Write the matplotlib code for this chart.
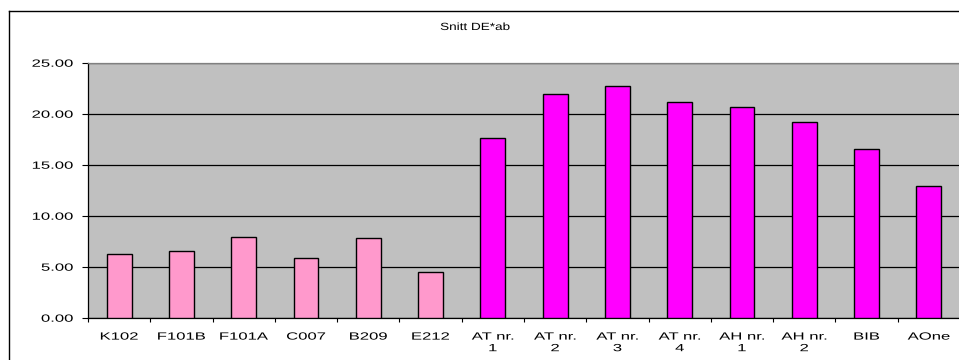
import matplotlib
matplotlib.use("Agg")
import matplotlib.pyplot as plt
from matplotlib.lines import Line2D
from matplotlib.patheffects import AbstractPathEffect
from matplotlib.transforms import Affine2D

plt.rcParams['font.family'] = ['Liberation Sans', 'DejaVu Sans']

title = "Snitt DE*ab"
categories = ["K102", "F101B", "F101A", "C007", "B209", "E212",
              "AT nr.\n1", "AT nr.\n2", "AT nr.\n3", "AT nr.\n4",
              "AH nr.\n1", "AH nr.\n2", "BIB", "AOne"]
values = [6.23, 6.56, 7.90, 5.90, 7.80, 4.49,
          17.65, 21.92, 22.69, 21.12, 20.70, 19.23, 16.50, 12.90]
group = ["pink"] * 6 + ["magenta"] * 8
palette = {"pink": "#FF99CC", "magenta": "#FF00FF"}
yticks = [0, 5, 10, 15, 20, 25]


class WideText(AbstractPathEffect):
    """Draw glyphs stretched horizontally about a chosen anchor."""

    def __init__(self, sx, anchor="center"):
        super().__init__()
        self.sx = sx
        self.anchor = anchor

    def draw_path(self, renderer, gc, tpath, affine, rgbFace=None):
        ext = tpath.get_extents()
        if self.anchor == "right":
            cx = ext.x1
        elif self.anchor == "left":
            cx = ext.x0
        else:
            cx = 0.5 * (ext.x0 + ext.x1)
        t = Affine2D().translate(-cx, 0).scale(self.sx, 1.0).translate(cx, 0) + affine
        renderer.draw_path(gc, tpath, t, rgbFace)


fig = plt.figure(figsize=(9.59, 3.60), dpi=100)
fig.patch.set_facecolor("white")

# chart frame
fig.add_artist(Line2D([8.5 / 959, 8.5 / 959], [0, 1 - 11 / 360],
                      transform=fig.transFigure, color="#000000", lw=1.0))
fig.add_artist(Line2D([8.5 / 959, 1], [1 - 11 / 360, 1 - 11 / 360],
                      transform=fig.transFigure, color="#000000", lw=1.0))

ax = fig.add_axes([88 / 959, 1 - 317.7 / 360, 1 - 88 / 959 + 0.001, (317.7 - 62.7) / 360])
ax.set_facecolor("#C0C0C0")

x = list(range(len(categories)))
ax.bar(x, values, width=0.4, color=[palette[g] for g in group],
       edgecolor="black", linewidth=1.0, zorder=3)

ax.set_xlim(-0.5, len(categories) - 0.5)
ax.set_ylim(0, 25)
ax.set_yticks(yticks)
ax.set_yticklabels([f"{v:.2f}" for v in yticks], fontsize=7.5)
ax.yaxis.grid(True, color="black", linewidth=0.9, zorder=1)
ax.set_axisbelow(True)

ax.set_xticks(x)
ax.set_xticklabels(categories, fontsize=7.5, linespacing=1.2)
ax.tick_params(axis="x", length=0, pad=10)
ax.set_xticks([i + 0.5 for i in range(-1, len(categories))], minor=True)
ax.tick_params(axis="x", which="minor", length=3, width=0.8, direction="out")
ax.tick_params(axis="y", length=4.5, width=0.8, direction="out", pad=6.3)

for lab in ax.get_xticklabels():
    lab.set_path_effects([WideText(1.6, "center")])
for lab in ax.get_yticklabels():
    lab.set_path_effects([WideText(1.6, "right")])

for side in ["left", "bottom"]:
    ax.spines[side].set_color("black")
    ax.spines[side].set_linewidth(0.9)
ax.spines["top"].set_color("#808080")
ax.spines["top"].set_linewidth(0.9)
ax.spines["right"].set_visible(False)

fig.text(475 / 959, 1 - 27 / 360, title, ha="center", va="center", fontsize=7.5,
         path_effects=[WideText(1.3, "center")])

fig.savefig("out.png", dpi=100)
